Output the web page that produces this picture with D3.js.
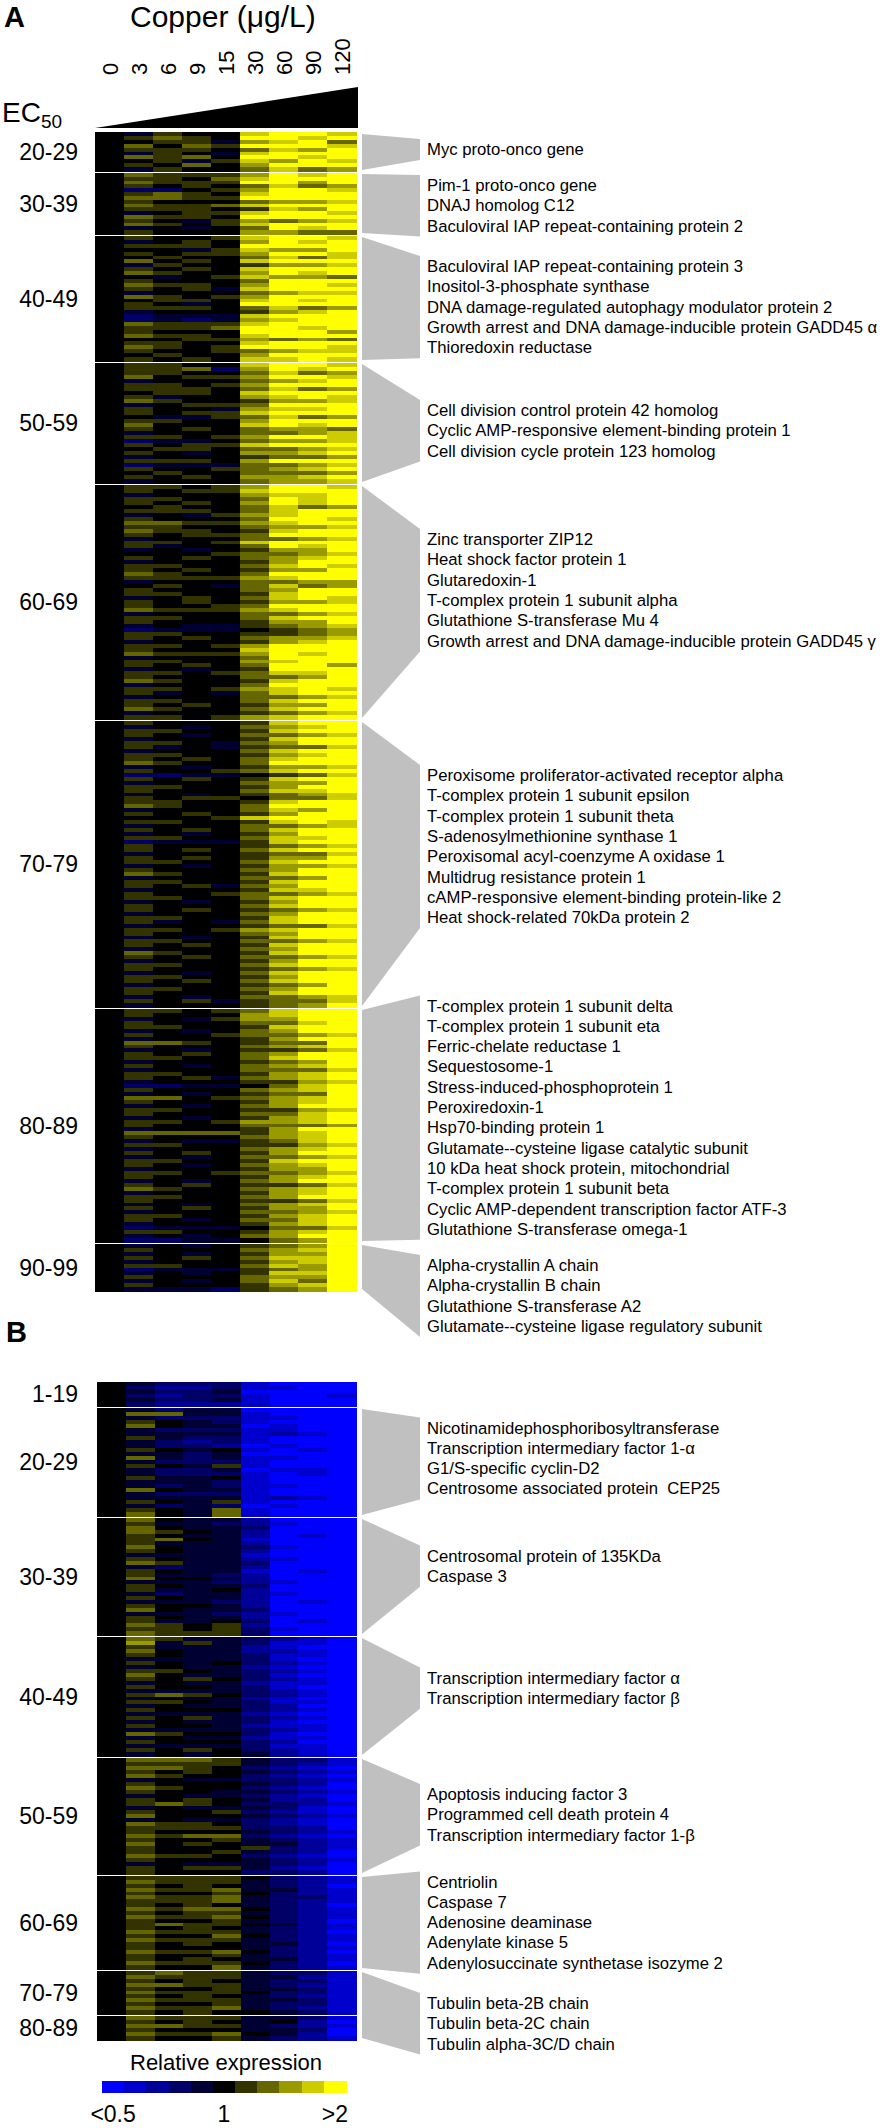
<!DOCTYPE html>
<html>
<head>
<meta charset="utf-8">
<script src="https://cdn.jsdelivr.net/npm/d3@7"></script>
<style>
  body { margin: 0; background: #fff; }
  text { font-family: "Liberation Sans", Arial, Helvetica, sans-serif; fill: #000; white-space: pre; }
</style>
</head>
<body>
<div id="chart"></div>
<script>
// copper concentrations (columns of the heat map)
const concentrations = ["0", "3", "6", "9", "15", "30", "60", "90", "120"];

// one character per cell: a = <0.5 ... f = 1 ... k = >2 (relative expression)
const levelCodes = "abcdefghijk";
const legendLabels = ["<0.5", "1", ">2"];

// A: up-regulated genes, grouped by EC50
const upEC50 = ["20-29", "30-39", "40-49", "50-59", "60-69", "70-79", "80-89", "90-99"];

const up2029 = ["fegffjkkj","fghgfkkjk","ffggeijkh","fhfhgkkkj","fgggfhjik","fegfejkkk","fhghfkkjk","ffgegjikj",
  "fgfhfikkk","fegffhjhi"];

const up3039 = ["fhgggikjk","fggfhjkkk","fhgggkkik","fgfgfhjhi","fddfgikkj","fghgfjkkk","fhhggkkkk","fgfffhiij",
  "fhgghjkkk","fgggfgjik","fefggjkkj","fhggfkkkk","fgfegihij","fhgfgjkkk","fefefhkjk","fgfffiihh"];

const up4049 = ["fgffgjkkj","fefgfikjk","fgggfkkkk","fffegjiik","fgfggikkj","ffgffhjhj","fhfgfjkkk","fegffgiij",
  "fgfgfjkkk","fhgffikjk","ffefgjiih","fgfffhkkk","fhggfikkj","fgfgejkkk","fefffhijj","fhgfgikkk",
  "ffggfjkjk","fgfefkkkk","fgggfhjhi","fefffgijk","fdeeejkkk","fdedeijkk","fhgggjkkk","fggghkkjk",
  "fgfffkkki","fhggfjkkk","fffggihih","fggffjkkk","fhgfgkkkj","fgffghijj","ffgffikkk","fgfgfjjkj"];

const up5059 = ["fggffjkkj","fgghdikjk","fggffhjhi","fhfggikkj","fefffhijk","fggfgikkk","fgggfhjhi","ffggfjkkk",
  "fgeffijkj","fhgffgiij","fefgghkkk","fgffeijjk","fgfggjkkk","ffeeghjhi","fggffikkk","fhfffjkjk",
  "fgfgfhiih","fefffhhij","fggfgikkj","fdeefhiij","fgfggjkkk","ffggfhhij","fgfefiijk","fefffghhi",
  "fgggfikkk","fdeeehhij","fgffghijk","ffgffhhhi","fgfgfiijk","fefffhiij"];

const up6069 = ["fggfgikkj","fgfggjkkk","fefffijjk","fggffhkjk","fgfgfikjk","ffgffhjhi","fgggfhjkk","fefegijkk",
  "fgfffhkkj","fhhggijkk","fggffhiij","fhggfgjkk","fgfgghkkk","fefffhhij","fggfgjkkk","fgeffhkjk",
  "fefefgiik","ffffghhij","fgfgfhijk","fefffgikk","fggffhjkj","fgfgfgiik","fhgffhkkk","fggggijkk",
  "fefffhhii","ffgfehjhi","fgfffhikk","fggffgjkk","fefgfhjkj","fgfgfgiij","fgffghkkk","fhgggijkk",
  "fefffhhij","fggffhjkk","fgfffgiik","fefeeghij","fdeeefghi","fggffgghi","fgfgfhiij","fefffgijk",
  "fggfgikkk","fgfffjkkk","fhgggikjk","fefffhkkk","fggffijkk","fgfgfhkki","fefefgkkk","fggfghjjk",
  "fgfffhhik","fhgffgjkk","fefffhkkk","fggfgijkj","fgefehjkk","fefffhhij","fggffhjkk","fgfgfgiik",
  "fhgffhjkk","fefffghij","fggfgijkk"];

const up7079 = ["fgfffgjkk","fefefhijk","fggffgjkk","fgfefhhij","fefffgjkk","fggfehikk","fgefeghhj","fefffhjkk",
  "fggffgijk","fgfgfhjkk","fhgffhkkk","fefefgiij","fgffghjkk","fddeefghj","fgfgfgjkk","fefffhiik",
  "fggffgikk","fgfffhjjk","fefefghij","fgfggfhhj","fggffgjkk","fhgffhkkk","fefffhjik","fgfgfgikk",
  "ffffgjkkk","fggffgjkj","fefffhhij","fgfgfhjkk","fefefgikk","fggffhjjk","fdeeegjkk","fgfffghij",
  "fgfgfhjkk","fefffghhj","fgfgfgiik","fggffhjkk","fefefgiij","fgfffhikk","fhgffgjkk","fefffhhik",
  "fggffgjkk","fgfgehikk","fefffgjjk","fgffghhij","fggffhjkk","fefefgikk","fgfffhjkk","fgfgfghij",
  "fefffhikk","fggffgjkk","fgefehjkk","fefffghhj","fggfgijkk","fgfffhikk","fefefgjkk","fggffhhij",
  "fgfgfgjkk","fefffhikk","fhgffgjkk","fgfgfhhij","fefffgikk","fggffhjkk","fgfffghij","fefefhjkk",
  "fggffgikk","fgfgfhjkk","fefffghik","fggffhikk","fgfffgjkk","fefefhhij","fgfgeghhj","fefffghik"];

const up8089 = ["fggfghjkk","fgfffijkk","fefegiikk","fgfffhhjk","fggffgjkk","fefefhikk","fgffghhij","fefffgikk",
  "fhhgfghhk","fgfffhijk","fefefgghj","fgfgfhikk","fggffhjkk","fefffghik","fgfefhijk","fefffhhhj",
  "fggffgijk","fgfgehijk","fefffggij","fddeefhjk","fgfffhijk","fefefghhk","fhhfghijk","fgfffgijk",
  "fefefhikk","fggffggij","fgfffhhjk","fefefgijk","fggfgiijk","fgfffhhhi","fefffgikk","fhhhhgijk",
  "fgfffhijk","fefeeghjk","fggffggij","fefffhijk","fgfgfgikk","fefefhhij","fggffgjkk","fgfefhijk",
  "fefffgiik","fggfghhij","fgfffgijk","fefefhikk","fgfgfgghj","fhgffhijk","fefffgijk","fggffhikk",
  "fgfffgghj","fefefhijk","fgfgfgiik","fefffhhij","fggffgijk","fgfefhhjk","fefffgijk","fdeeefhhj",
  "fggffgijk","fefefhikk","fddeefhik"];

const up9099 = ["fefefghik","fgfffhijk","fefefgiik","fgfgfhjjk","fefffgijk","fggffhjik","fdeeeghik","fefefgjjk",
  "fgfffhiik","fefefhjhk","fgfffgijk","feeedghik"];

// B: down-regulated genes, grouped by EC50
const downEC50 = ["1-19", "20-29", "30-39", "40-49", "50-59", "60-69", "70-79", "80-89"];

const down0119 = ["fedddbaaa","fdccdbbaa","feddeaaaa","fdcddbaab","feddebaaa","fdcccbaaa"];

const down2029 = ["fedeeaaaa","fhheebaaa","fedddbbaa","fgfedbaaa","fhfeeabaa","fedddbbaa","feeeebcba","fgeddbaaa",
  "fedcdbaaa","feddcabaa","fgfefbaba","feedeaaaa","fhedebbaa","fedddbaaa","fgfegbaaa","feddeabba",
  "fedddbaba","fgeefbaaa","feeedbaaa","fededbbaa","fhfeebaaa","fedddbaaa","feeeebcba","fgfegbaaa",
  "fededabaa","fgfehbaaa","fhfehbaaa"];

const down3039 = ["fhfeecaaa","fgeedcbaa","fhfeedaaa","fhgfecaaa","fgfeecaba","fghfebaaa","fgeeecaaa","fhfeedbaa",
  "fgfeecaaa","feeeebaaa","fgfeecbaa","fhgeedaaa","fedeecaaa","fgfeebaba","fgeedcaaa","fhffecaaa",
  "feeedcbaa","fgfeedaaa","fgeefcaaa","fedeecbaa","fgfeecaaa","feeedcaba","fgffecaaa","fhfeedaaa",
  "feeedcbaa","fgfeecaaa","fgeefdaba","fhgfgcaaa","fggfgdbaa","fhgggdaaa"];

const down4049 = ["fhgeedcba","fiegedbba","fgeeecbaa","fhfeeccba","fgfeedbba","feeeedbaa","fgfefdcba","fefeecbaa",
  "fggfedcba","fhfeedbaa","fgfgfdcba","fefeecbba","fgffedbaa","feeeedcba","fghgfdcba","fefeecbaa",
  "fggfedbba","fefeedcaa","fgfffdcba","feeeecbaa","fgfgedcba","fefeedbaa","fgffecbba","feeeedcba",
  "fhgffdbaa","fefeecbba","fgfffdcaa","feeeedbba","fgfgfdcba","fefefecba"];

const down5059 = ["fhhhgeddb","fggggedcb","fhhgfdcba","fgfgfedcb","fhgffdcba","fefeeddcb","fgfffedca","fhgffdcba",
  "fgffeedcb","fefeedcba","fgfgfecca","fghgfddcb","fefeeedba","fgffgdcba","fhfffedcb","fefeedcba",
  "fhggfdcba","fggggddca","fgfffedcb","fhghhdcba","fgffgedcb","fhfgfeecb","fgfffgdcb","fgffgedca",
  "fhggfdcba","fgfffedcb","fefeeedca","fgfggecba","fgfffddca"];

const down6069 = ["fggggfdcb","fhgggedcb","fgfgfedca","fhggheecb","fgffgfdcb","fhggheddb","fggghedcb","fgfgfedca",
  "fhghhfdcb","fgfggedcb","fhgghfdcb","fgffgedca","fghggfecb","fgfgfedcb","fhgggedca","fgffhfdcb",
  "fhgggedcb","fgfgfeeca","fgfffedcb","fhgghfdca","fgffgedcb","fgfgfeecb","fhgggfdca","fgffhedcb"];

const down7079 = ["fghggeddb","fhgggeecb","fgfgfeddb","fhhggedcb","fgffgeedb","fhgggfddb","fgfgfedcb","fhgggeedb",
  "fgffgeddb","fhgghedcb","fgfgffedb"];

const down8089 = ["fhgggeedb","fgfgfefca","fhhggedcb","fgfffeeda","fhgghfeca","fgffgedcb"];

// genes named beside each EC50 group
const upGenes2029 = ["Myc proto-onco gene"];
const upGenes3039 = ["Pim-1 proto-onco gene", "DNAJ homolog C12", "Baculoviral IAP repeat-containing protein 2"];
const upGenes4049 = ["Baculoviral IAP repeat-containing protein 3", "Inositol-3-phosphate synthase",
  "DNA damage-regulated autophagy modulator protein 2", "Growth arrest and DNA damage-inducible protein GADD45 α",
  "Thioredoxin reductase"];
const upGenes5059 = ["Cell division control protein 42 homolog", "Cyclic AMP-responsive element-binding protein 1",
  "Cell division cycle protein 123 homolog"];
const upGenes6069 = ["Zinc transporter ZIP12", "Heat shock factor protein 1", "Glutaredoxin-1",
  "T-complex protein 1 subunit alpha", "Glutathione S-transferase Mu 4",
  "Growth arrest and DNA damage-inducible protein GADD45 γ"];
const upGenes7079 = ["Peroxisome proliferator-activated receptor alpha", "T-complex protein 1 subunit epsilon",
  "T-complex protein 1 subunit theta", "S-adenosylmethionine synthase 1", "Peroxisomal acyl-coenzyme A oxidase 1",
  "Multidrug resistance protein 1", "cAMP-responsive element-binding protein-like 2",
  "Heat shock-related 70kDa protein 2"];
const upGenes8089 = ["T-complex protein 1 subunit delta", "T-complex protein 1 subunit eta", "Ferric-chelate reductase 1",
  "Sequestosome-1", "Stress-induced-phosphoprotein 1", "Peroxiredoxin-1", "Hsp70-binding protein 1",
  "Glutamate--cysteine ligase catalytic subunit", "10 kDa heat shock protein, mitochondrial",
  "T-complex protein 1 subunit beta", "Cyclic AMP-dependent transcription factor ATF-3",
  "Glutathione S-transferase omega-1"];
const upGenes9099 = ["Alpha-crystallin A chain", "Alpha-crystallin B chain", "Glutathione S-transferase A2",
  "Glutamate--cysteine ligase regulatory subunit"];

const downGenes2029 = ["Nicotinamidephosphoribosyltransferase", "Transcription intermediary factor 1-α",
  "G1/S-specific cyclin-D2", "Centrosome associated protein  CEP25"];
const downGenes3039 = ["Centrosomal protein of 135KDa", "Caspase 3"];
const downGenes4049 = ["Transcription intermediary factor α", "Transcription intermediary factor β"];
const downGenes5059 = ["Apoptosis inducing factor 3", "Programmed cell death protein 4",
  "Transcription intermediary factor 1-β"];
const downGenes6069 = ["Centriolin", "Caspase 7", "Adenosine deaminase", "Adenylate kinase 5",
  "Adenylosuccinate synthetase isozyme 2"];
const downGenes7089 = ["Tubulin beta-2B chain", "Tubulin beta-2C chain", "Tubulin alpha-3C/D chain"];

// ---- layout ----
const W = 885, H = 2128;
const sepA = [132, 172, 235, 362, 484, 720, 1008, 1243, 1291];
const sepB = [1382, 1407, 1517, 1636, 1757, 1875, 1970, 2015, 2040];
const lineStep = 20.3;
const textX = 427, shapeL = 362, shapeR = 420;

const color = d3.scaleLinear().domain([-5, 0, 5]).range(["#0000ff", "#000000", "#ffff00"]);
const level = ch => levelCodes.indexOf(ch) - 5;

const svg = d3.select("#chart").append("svg")
    .attr("width", W).attr("height", H)
    .style("background", "#fff");

function drawPanel(sections, names, seps, x) {
  const g = svg.append("g");
  sections.forEach((rows, i) => {
    const top = seps[i] + (i > 0 ? 1 : 0);
    const bottom = seps[i + 1] - (i < sections.length - 1 ? 1 : 0);
    const y = d3.scaleBand().domain(d3.range(rows.length)).range([top, bottom]);
    const cells = [];
    rows.forEach((row, r) => row.split("").forEach((ch, c) => cells.push({ r, c, v: level(ch) })));
    g.append("g").attr("shape-rendering", "crispEdges")
      .selectAll("rect").data(cells).join("rect")
        .attr("x", d => x(concentrations[d.c]))
        .attr("y", d => y(d.r))
        .attr("width", x.bandwidth() + 0.5)
        .attr("height", y.bandwidth() + 0.5)
        .attr("fill", d => color(d.v));

    g.append("text")
      .attr("x", 78).attr("y", (top + bottom) / 2 + 8)
      .attr("text-anchor", "end")
      .style("font-size", "23px")
      .text(names[i]);
  });
}

function drawGenes(groups, seps) {
  groups.forEach(gr => {
    const last = gr.first + (gr.genes.length - 1) * lineStep;
    const yTop = seps[gr.from] + 2, yBot = seps[gr.to + 1] - 2;
    svg.append("polygon")
      .attr("points", [[shapeL, yTop], [shapeR, gr.first - 16], [shapeR, last + 5], [shapeL, yBot]].join(" "))
      .attr("fill", "#c0c0c0");
    svg.append("g").selectAll("text").data(gr.genes).join("text")
      .attr("x", textX)
      .attr("y", (d, i) => gr.first + i * lineStep)
      .style("font-size", "16.7px")
      .text(d => d);
  });
}

// ---- panel A ----
const xA = d3.scaleBand().domain(concentrations).range([95, 356]);
drawPanel([up2029, up3039, up4049, up5059, up6069, up7079, up8089, up9099], upEC50, sepA, xA);
drawGenes([
  { from: 0, to: 0, first: 155, genes: upGenes2029 },
  { from: 1, to: 1, first: 191, genes: upGenes3039 },
  { from: 2, to: 2, first: 272, genes: upGenes4049 },
  { from: 3, to: 3, first: 416, genes: upGenes5059 },
  { from: 4, to: 4, first: 545, genes: upGenes6069 },
  { from: 5, to: 5, first: 781, genes: upGenes7079 },
  { from: 6, to: 6, first: 1011.5, genes: upGenes8089 },
  { from: 7, to: 7, first: 1271, genes: upGenes9099 }
], sepA);

// dose wedge and column labels
svg.append("polygon")
  .attr("points", [[xA.range()[0], 128], [xA.range()[1] + 2, 87], [xA.range()[1] + 2, 128]].join(" "))
  .attr("fill", "#000");

svg.append("g").selectAll("text").data(concentrations).join("text")
  .attr("transform", d => `translate(${xA(d) + xA.bandwidth() / 2 + 8},75) rotate(-90)`)
  .style("font-size", "22px")
  .text(d => d);

svg.append("text").attr("x", 130).attr("y", 27).style("font-size", "30px").text("Copper (μg/L)");
svg.append("text").attr("x", 4).attr("y", 27).style("font-size", "29px").style("font-weight", "bold").text("A");
const ec = svg.append("text").attr("x", 2).attr("y", 122).style("font-size", "28px");
ec.append("tspan").text("EC");
ec.append("tspan").attr("dy", 6).style("font-size", "19px").text("50");

// ---- panel B ----
svg.append("text").attr("x", 6).attr("y", 1342).style("font-size", "29px").style("font-weight", "bold").text("B");
const xB = d3.scaleBand().domain(concentrations).range([97, 356]);
drawPanel([down0119, down2029, down3039, down4049, down5059, down6069, down7079, down8089], downEC50, sepB, xB);
drawGenes([
  { from: 1, to: 1, first: 1433.5, genes: downGenes2029 },
  { from: 2, to: 2, first: 1561.5, genes: downGenes3039 },
  { from: 3, to: 3, first: 1683.5, genes: downGenes4049 },
  { from: 4, to: 4, first: 1800, genes: downGenes5059 },
  { from: 5, to: 5, first: 1887.5, genes: downGenes6069 },
  { from: 6, to: 7, first: 2009, genes: downGenes7089 }
], sepB);

// ---- colour key ----
const steps = d3.range(-5, 6);
const xKey = d3.scaleBand().domain(steps).range([102, 346]);
svg.append("g").attr("shape-rendering", "crispEdges")
  .selectAll("rect").data(steps).join("rect")
    .attr("x", d => xKey(d)).attr("y", 2081)
    .attr("width", xKey.bandwidth() + 0.5).attr("height", 12)
    .attr("fill", d => color(d));
svg.append("text").attr("x", 226).attr("y", 2070).attr("text-anchor", "middle")
  .style("font-size", "22px").text("Relative expression");
svg.append("g").selectAll("text").data(legendLabels).join("text")
  .attr("x", (d, i) => xKey([-5, 0, 5][i]) + xKey.bandwidth() / 2)
  .attr("y", 2122)
  .attr("text-anchor", "middle")
  .style("font-size", "23px")
  .text(d => d);
</script>
</body>
</html>
